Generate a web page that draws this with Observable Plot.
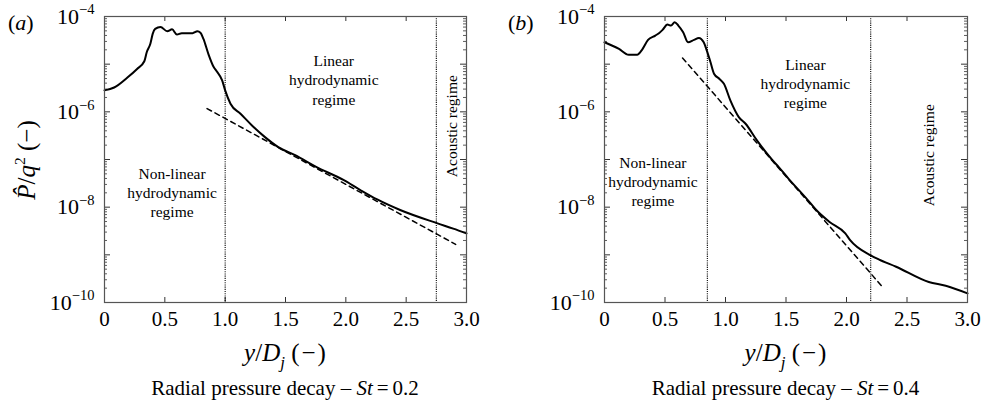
<!DOCTYPE html>
<html><head><meta charset="utf-8">
<script src="https://cdn.jsdelivr.net/npm/d3@7"></script>
<script src="https://cdn.jsdelivr.net/npm/@observablehq/plot@0.6"></script>
<style>
body{margin:0;background:#fff;font-family:"Liberation Serif","Times New Roman",serif;}
#row{display:flex;width:985px;height:401px;overflow:hidden;}
svg{display:block;}
svg text{font-family:"Liberation Serif","Times New Roman",serif !important;}
</style></head><body><div id="row"></div>
<script>
// ---------- data ----------
const xTicks = [0, 0.5, 1.0, 1.5, 2.0, 2.5, 3.0];
const yLabelTicks = [1e-4, 1e-6, 1e-8, 1e-10];
const yMajorTicks = [1e-4, 1e-5, 1e-6, 1e-7, 1e-8, 1e-9, 1e-10];
const yMinorMant = [2, 3, 4, 5, 6, 7, 8, 9];
const yMinorDecades = [1e-10, 1e-9, 1e-8, 1e-7, 1e-6, 1e-5];

// Panel (a), St = 0.2
const xA = [0, 0.08, 0.19, 0.27, 0.33, 0.35, 0.38, 0.40, 0.42, 0.464, 0.52, 0.56, 0.60, 0.64, 0.73, 0.77, 0.795, 0.82, 0.86, 0.905, 0.93, 0.975, 1.0, 1.044, 1.127, 1.22, 1.33, 1.44, 1.58, 1.75, 1.98, 2.12, 2.26, 2.45, 2.76, 2.89, 3.0];
const pA = [2.82e-6, 3.24e-6, 5.25e-6, 7.94e-6, 1.15e-5, 1.78e-5, 2.69e-5, 4.37e-5, 5.50e-5, 6.03e-5, 4.90e-5, 5.37e-5, 4.17e-5, 4.47e-5, 4.47e-5, 4.90e-5, 4.57e-5, 3.39e-5, 1.66e-5, 8.71e-6, 7.08e-6, 4.57e-6, 2.82e-6, 1.48e-6, 9.12e-7, 5.25e-7, 2.95e-7, 1.82e-7, 1.23e-7, 7.08e-8, 3.72e-8, 2.29e-8, 1.45e-8, 8.71e-9, 4.57e-9, 3.55e-9, 2.82e-9];
const dashXA = [0.85, 2.91];
const dashPA = [1.17e-6, 1.66e-9];
const boundsA = [1.0, 2.75];

// Panel (b), St = 0.4
const xB = [0, 0.12, 0.20, 0.27, 0.31, 0.36, 0.42, 0.45, 0.48, 0.52, 0.55, 0.58, 0.61, 0.65, 0.69, 0.74, 0.78, 0.82, 0.845, 0.875, 0.905, 0.95, 0.987, 1.04, 1.11, 1.166, 1.26, 1.39, 1.44, 1.52, 1.68, 1.75, 1.86, 1.99, 2.03, 2.20, 2.27, 2.41, 2.68, 2.82, 3.0];
const pB = [2.88e-5, 2.09e-5, 1.58e-5, 1.58e-5, 2.0e-5, 3.24e-5, 3.98e-5, 4.47e-5, 5.25e-5, 6.76e-5, 6.46e-5, 7.59e-5, 6.46e-5, 4.68e-5, 2.88e-5, 3.24e-5, 3.55e-5, 2.88e-5, 1.95e-5, 1.12e-5, 6.31e-6, 4.90e-6, 3.89e-6, 1.74e-6, 7.76e-7, 5.62e-7, 2.51e-7, 9.55e-8, 6.92e-8, 3.98e-8, 1.41e-8, 8.71e-9, 4.90e-9, 2.82e-9, 2.04e-9, 9.77e-10, 7.94e-10, 5.62e-10, 2.69e-10, 2.24e-10, 1.55e-10];
const dashXB = [0.645, 2.30];
const dashPB = [1.35e-5, 2.09e-10];
const boundsB = [0.85, 2.2];

// Region labels
const regionTexts = ["Non-linear\nhydrodynamic\nregime", "Linear\nhydrodynamic\nregime"];
const acousticText = "Acoustic regime";
const regionXA = [0.56, 1.90], regionYA = [2.06e-8, 4.8e-6];
const acousticXA = 2.88, acousticYA = 5.0e-7;
const regionXB = [0.40, 1.66], regionYB = [3.5e-8, 4.0e-6];
const acousticXB = 2.68, acousticYB = 1.23e-7;

const panelLabels = ["a", "b"];
const captions = ["0.2", "0.4"];

// ---------- helpers ----------
const FONT = "'Liberation Serif','Times New Roman',serif";
function rich(sel, parts, base) {
  let shift = 0;
  for (const p of parts) {
    const ts = sel.append("tspan").text(p.t);
    if (p.i) ts.attr("font-style", "italic");
    if (p.dx) ts.attr("dx", p.dx);
    const target = p.sup ? -0.42 : p.sub ? 0.28 : 0;
    if (p.sup || p.sub) ts.attr("font-size", (p.scale || 0.68) * base);
    if (target !== shift) { ts.attr("dy", (target - shift) * base); shift = target; }
  }
}

function panel(cfg) {
  const {width, ml, mr, xs, ps, dx, dp, bounds, rx, ry, ax, ay, label, cap, ylabel} = cfg;
  const height = 401, mt = 16, mb = 99;
  const fw = width - ml - mr, fh = height - mt - mb;
  const curve = xs.map((x, i) => ({x, p: ps[i]}));
  const dash = dx.map((x, i) => ({x, p: dp[i]}));
  const regions = regionTexts.map((t, i) => ({t, x: rx[i], y: ry[i]}));
  const minor = yMinorDecades.flatMap(d => yMinorMant.map(m => m * d));
  const tc = "#333";
  const svg = Plot.plot({
    width, height, marginLeft: ml, marginRight: mr, marginTop: mt, marginBottom: mb,
    style: {fontFamily: FONT, background: "white", color: "black"},
    x: {domain: [0, 3]},
    y: {type: "log", domain: [1e-10, 1e-4]},
    marks: [
      Plot.axisX({ticks: xTicks, tickSize: 0, tickPadding: 9, fontSize: 21, tickFormat: d => d === 0 ? "0" : d.toFixed(1), label: null}),
      Plot.axisY({ticks: yLabelTicks, tickSize: 0, tickPadding: 10, fontSize: 22, tickFormat: d => "10|" + Math.round(Math.log10(d)), label: null}),
      Plot.tickX(xTicks, {x: d => d, insetTop: fh - 5, stroke: tc, strokeWidth: 1}),
      Plot.tickX(xTicks, {x: d => d, insetBottom: fh - 5, stroke: tc, strokeWidth: 1}),
      Plot.tickY(yMajorTicks, {y: d => d, insetRight: fw - 6, stroke: tc, strokeWidth: 1}),
      Plot.tickY(yMajorTicks, {y: d => d, insetLeft: fw - 6, stroke: tc, strokeWidth: 1}),
      Plot.tickY(minor, {y: d => d, insetRight: fw - 3, stroke: tc, strokeWidth: 0.8}),
      Plot.tickY(minor, {y: d => d, insetLeft: fw - 3, stroke: tc, strokeWidth: 0.8}),
      Plot.ruleX(bounds, {x: d => d, stroke: "black", strokeWidth: 1.1, strokeDasharray: "1.1,1.1"}),
      Plot.line(dash, {x: "x", y: "p", stroke: "black", strokeWidth: 1.5, strokeDasharray: "5,4"}),
      Plot.line(curve, {x: "x", y: "p", stroke: "black", strokeWidth: 2, curve: "monotone-x"}),
      Plot.text(regions, {x: "x", y: "y", text: "t", fontSize: 15.5, lineHeight: 1.23, fill: "black"}),
      Plot.text([acousticText], {x: () => ax, y: () => ay, text: d => d, rotate: -90, fontSize: 15.5, fill: "black"}),
      Plot.frame({stroke: "#555", strokeWidth: 1.2})
    ]
  });
  const s = d3.select(svg);
  s.selectAll('g[aria-label="y-axis tick label"] text').each(function() {
    const t = d3.select(this);
    const [b, e] = t.text().split("|");
    t.text(null);
    rich(t, [{t: b}, {t: e.replace("-", "\u2212"), sup: true, scale: 0.66}], 22);
  });
  const cx = ml + fw / 2;
  const g = s.append("g").attr("fill", "black").attr("font-family", FONT);
  if (ylabel) {
    const yl = g.append("text").attr("transform", `translate(${ml - 69},${mt + 144}) rotate(-90)`)
      .attr("text-anchor", "middle").attr("font-size", 25);
    rich(yl, [{t: "P\u0302", i: true}, {t: "/"}, {t: "q", i: true}, {t: "2", sup: true, scale: 0.62}, {t: " (\u2212)"}], 25);
  }
  const xl = g.append("text").attr("x", cx).attr("y", 361).attr("text-anchor", "middle").attr("font-size", 25);
  rich(xl, [{t: "y", i: true}, {t: "/"}, {t: "D", i: true}, {t: "j", i: true, sub: true, scale: 0.68},
            {t: " ("}, {t: "\u2212", dx: 2}, {t: ")", dx: 2}], 25);
  const cp = g.append("text").attr("x", cx).attr("y", 395).attr("text-anchor", "middle").attr("font-size", 21);
  rich(cp, [{t: "Radial pressure decay \u2013 "}, {t: "St", i: true}, {t: "=", dx: 4}, {t: cap, dx: 4}], 21);
  const pl = g.append("text").attr("x", ml - 96).attr("y", 30).attr("text-anchor", "start").attr("font-size", 22);
  rich(pl, [{t: "("}, {t: label, i: true}, {t: ")"}], 22);
  return svg;
}

const row = document.getElementById("row");
row.append(panel({width: 492, ml: 104, mr: 26, xs: xA, ps: pA, dx: dashXA, dp: dashPA, bounds: boundsA,
  rx: regionXA, ry: regionYA, ax: acousticXA, ay: acousticYA, label: panelLabels[0], cap: captions[0], ylabel: true}));
row.append(panel({width: 493, ml: 112, mr: 18, xs: xB, ps: pB, dx: dashXB, dp: dashPB, bounds: boundsB,
  rx: regionXB, ry: regionYB, ax: acousticXB, ay: acousticYB, label: panelLabels[1], cap: captions[1], ylabel: false}));
</script></body></html>
